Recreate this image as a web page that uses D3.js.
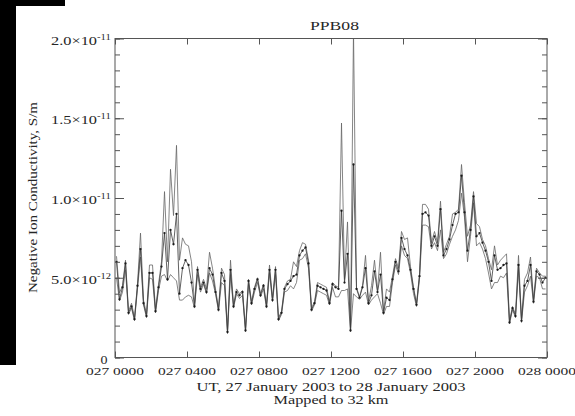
<!DOCTYPE html>
<html lang="en">
<head>
<meta charset="UTF-8">
<title>PPB08</title>
<script src="https://cdn.jsdelivr.net/npm/d3@7"></script>
<style>
  body { margin: 0; background: #fff; }
  text { font-family: "Liberation Serif", serif; fill: #262626; }
</style>
</head>
<body>
<svg id="chart" width="575" height="416"></svg>
<script>
// Negative ion conductivity, units of 1e-12 S/m, one sample every 10 minutes from 027 0005
var sampleStartMin = 5, sampleStepMin = 10;

var midVals = [
  6.0, 3.65, 4.4, 5.9, 2.8, 3.2, 2.4, 4.5, 6.8, 3.4,
  2.6, 5.3, 5.3, 2.9, 4.4, 5.7, 7.8, 4.9, 8.0, 7.1,
  9.0, 4.0, 5.6, 6.1, 5.8, 4.7, 3.2, 5.5, 4.3, 4.7,
  4.1, 5.6, 5.2, 4.1, 3.0, 5.3, 4.8, 1.6, 5.5, 3.2,
  4.1, 3.9, 4.1, 1.7, 4.8, 3.4, 4.3, 4.9, 3.9, 4.5,
  3.2, 5.5, 3.6, 5.5, 2.4, 2.8, 4.3, 4.6, 4.8, 5.1,
  5.2, 6.4, 6.7, 6.9, 5.9, 3.0, 3.4, 4.5, 4.4, 4.3,
  4.2, 3.4, 4.6, 4.4, 4.3, 9.2, 4.7, 6.5, 1.7, 12.1,
  4.3, 3.75, 4.4, 5.6, 3.4, 3.9, 5.4, 4.1, 5.2, 2.8,
  3.75, 3.6, 4.9, 6.0, 5.4, 7.5, 6.8, 6.4, 5.5, 4.3,
  3.3, 5.1, 9.0, 9.1, 8.9, 7.0, 7.6, 7.0, 9.3, 6.4,
  6.8, 7.4, 8.3, 9.0, 9.1, 11.4, 9.1, 6.7, 8.0, 10.1,
  7.6, 7.8, 7.2, 6.7, 6.0, 4.8, 6.4, 5.5, 5.6, 5.8,
  5.9, 2.2, 3.1, 2.6, 5.8, 2.3, 4.5, 4.8, 5.8, 3.5,
  5.4, 5.2, 4.7, 5.0
];

var upperVals = [
  6.35, 4.05, 4.5, 6.1, 2.9, 3.4, 2.5, 4.6, 7.8, 3.6,
  2.7, 5.8, 5.8, 3.0, 4.6, 6.0, 10.4, 6.0, 11.8, 8.9,
  13.3, 6.1, 7.5, 7.1, 7.0, 6.0, 3.4, 5.7, 4.4, 4.9,
  4.3, 6.6, 5.6, 4.3, 3.1, 5.6, 5.2, 1.7, 6.1, 3.3,
  4.3, 4.0, 4.2, 1.8, 4.9, 3.5, 4.4, 5.0, 4.0, 4.6,
  3.3, 5.8, 3.7, 5.7, 2.5, 2.9, 4.4, 4.8, 4.9, 6.0,
  5.7, 6.7, 7.2, 7.1, 6.1, 3.1, 3.5, 4.7, 4.6, 4.5,
  4.4, 3.5, 4.7, 4.5, 4.4, 14.7, 4.9, 8.5, 1.9, 20.5,
  4.4, 3.8, 4.5, 6.4, 3.5, 4.5, 6.1, 4.2, 6.6, 2.9,
  4.3, 4.1, 5.1, 6.2, 5.6, 7.9, 7.4, 7.5, 5.7, 4.4,
  3.4, 5.2, 9.6, 9.6, 9.3, 7.2, 7.9, 7.2, 9.8, 6.6,
  7.1, 7.6, 9.0, 9.1, 9.3, 12.1, 9.7, 7.6, 8.3, 10.4,
  8.4, 8.2, 7.4, 7.0, 6.2, 5.5, 7.0, 5.8, 6.1, 6.3,
  6.5, 2.3, 3.2, 2.7, 6.4, 2.4, 4.9, 5.3, 6.3, 3.6,
  5.6, 5.3, 5.1, 5.1
];

var lowerVals = [
  5.0, 3.55, 4.1, 5.5, 2.7, 3.1, 2.3, 4.3, 6.3, 3.3,
  2.5, 5.0, 4.9, 2.8, 4.2, 5.1, 5.2, 4.8, 5.2, 5.0,
  4.8, 3.6, 3.6, 3.8, 3.9, 3.8, 3.1, 5.2, 4.1, 4.6,
  4.0, 5.3, 4.8, 4.0, 2.9, 4.7, 4.5, 1.5, 5.2, 3.1,
  4.0, 3.7, 3.9, 1.6, 4.6, 3.3, 4.1, 4.7, 3.8, 4.3,
  3.1, 5.3, 3.5, 5.2, 2.3, 2.7, 4.1, 4.2, 4.5, 4.3,
  4.7, 6.1, 6.2, 6.5, 5.6, 2.9, 3.3, 4.2, 4.1, 4.0,
  3.9, 3.3, 4.4, 3.8, 3.8, 4.2, 4.2, 4.3, 1.6, 4.0,
  3.8, 3.65, 3.9, 4.1, 3.3, 3.6, 3.8, 4.0, 3.4, 2.7,
  3.2, 3.2, 4.7, 5.8, 5.2, 7.0, 6.4, 6.2, 5.3, 4.0,
  3.2, 4.9, 8.3, 8.3, 8.2, 6.8, 7.2, 6.7, 8.0, 6.2,
  6.5, 7.1, 7.6, 8.0, 8.6, 10.3, 8.8, 6.0, 7.6, 9.7,
  7.0, 7.2, 6.8, 6.2, 5.3, 4.3, 4.7, 4.7, 5.1, 5.0,
  5.3, 2.1, 3.0, 2.5, 5.5, 2.2, 4.1, 4.5, 5.1, 3.4,
  5.1, 5.0, 4.3, 4.3
];

var xTickHours = [0, 4, 8, 12, 16, 20, 24];
var xTickLabels = ["027 0000", "027 0400", "027 0800", "027 1200", "027 1600", "027 2000", "028 0000"];
var yMajor = [0, 5e-12, 1e-11, 1.5e-11, 2e-11];
var yMantissa = ["0", "5.0\u00d710", "1.0\u00d710", "1.5\u00d710", "2.0\u00d710"];
var yExponent = ["", "-12", "-11", "-11", "-11"];

var svg = d3.select("#chart");
var plotL = 115, plotR = 547, plotT = 38.5, plotB = 357.5;

var x = d3.scaleLinear().domain([0, 24]).range([plotL, plotR]);
var y = d3.scaleLinear().domain([0, 2e-11]).range([plotB, plotT]);

// scanner edge in the corner of the original
svg.append("rect").attr("x", 0).attr("y", 0).attr("width", 16).attr("height", 365).attr("fill", "#000");
svg.append("rect").attr("x", 0).attr("y", 0).attr("width", 65).attr("height", 6).attr("fill", "#000");

var pts = midVals.map(function(v, i) {
  return {
    t: (sampleStartMin + i * sampleStepMin) / 60,
    mid: v * 1e-12, up: upperVals[i] * 1e-12, lo: lowerVals[i] * 1e-12
  };
});

svg.append("clipPath").attr("id", "plotclip")
  .append("rect").attr("x", plotL).attr("y", plotT).attr("width", plotR - plotL).attr("height", plotB - plotT);

var plot = svg.append("g").attr("clip-path", "url(#plotclip)");

function lineOf(key) {
  return d3.line().x(function(d) { return x(d.t); }).y(function(d) { return y(d[key]); });
}

plot.append("path").datum(pts).attr("d", lineOf("up"))
  .attr("fill", "none").attr("stroke", "#666").attr("stroke-width", 0.8);
plot.append("path").datum(pts).attr("d", lineOf("lo"))
  .attr("fill", "none").attr("stroke", "#666").attr("stroke-width", 0.8);
plot.append("path").datum(pts).attr("d", lineOf("mid"))
  .attr("fill", "none").attr("stroke", "#3a3a3a").attr("stroke-width", 0.8);
plot.selectAll("circle").data(pts).enter().append("circle")
  .attr("cx", function(d) { return x(d.t); })
  .attr("cy", function(d) { return y(d.mid); })
  .attr("r", 1.15).attr("fill", "#1a1a1a");

// axes, ticks point inward like IDL
var yMinor = d3.range(0, 21).map(function(k) { return k * 1e-12; });
function styleAxis(g) {
  g.select(".domain").remove();
  g.selectAll("line").attr("stroke", "#555").attr("stroke-width", 1);
  g.selectAll("text").remove();
}
svg.append("g").attr("transform", "translate(" + plotL + ",0)")
  .call(d3.axisLeft(y).tickValues(yMinor).tickSize(-5)).call(styleAxis);
svg.append("g").attr("transform", "translate(" + plotL + ",0)")
  .call(d3.axisLeft(y).tickValues(yMajor).tickSize(-9)).call(styleAxis);
svg.append("g").attr("transform", "translate(" + plotR + ",0)")
  .call(d3.axisRight(y).tickValues(yMinor).tickSize(-5)).call(styleAxis);
svg.append("g").attr("transform", "translate(" + plotR + ",0)")
  .call(d3.axisRight(y).tickValues(yMajor).tickSize(-9)).call(styleAxis);
svg.append("g").attr("transform", "translate(0," + plotB + ")")
  .call(d3.axisBottom(x).tickValues(xTickHours).tickSize(-6)).call(styleAxis);
svg.append("g").attr("transform", "translate(0," + plotT + ")")
  .call(d3.axisTop(x).tickValues(xTickHours).tickSize(-6)).call(styleAxis);

svg.append("rect").attr("x", plotL).attr("y", plotT)
  .attr("width", plotR - plotL).attr("height", plotB - plotT)
  .attr("fill", "none").attr("stroke", "#555").attr("stroke-width", 1);

// wide Hershey-like lettering: stretch serif text to the measured widths
function label(px, py, str, size, width, anchor, rotate) {
  var t = svg.append("text")
    .attr("font-size", size)
    .attr("text-anchor", anchor || "middle")
    .attr("textLength", width)
    .attr("lengthAdjust", "spacingAndGlyphs")
    .text(str);
  if (rotate) t.attr("transform", "translate(" + px + "," + py + ") rotate(-90)");
  else t.attr("x", px).attr("y", py);
  return t;
}

xTickHours.forEach(function(h, i) {
  label(x(h), 375, xTickLabels[i], 10.5, 58);
});
yMajor.forEach(function(v, i) {
  var base = y(v) + 6;
  if (yExponent[i] === "") {
    label(107.5, base, yMantissa[i], 12, 7, "end");
  } else {
    label(97, base, yMantissa[i], 12, 46, "end");
    label(111, base - 5, yExponent[i], 7.5, 14, "end");
  }
});

label(334.5, 29.5, "PPB08", 13, 49);
label(331, 391, "UT, 27 January 2003 to 28 January 2003", 11.5, 269);
label(331, 404, "Mapped to 32 km", 11.5, 115);
label(37, 197.5, "Negative Ion Conductivity, S/m", 11.5, 191, "middle", true);
</script>
</body>
</html>
